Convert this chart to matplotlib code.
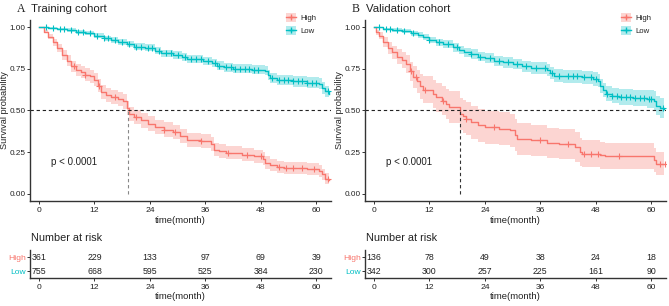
import numpy as np
import matplotlib
matplotlib.use("Agg")
import matplotlib.pyplot as plt
from matplotlib.lines import Line2D
from matplotlib.patches import Patch

plt.rcParams['font.family'] = ['Liberation Sans', 'DejaVu Sans']

RED = "#F8766D"
CYAN = "#00BFC4"

# ---------------- Panel A: Training cohort ----------------
a_high_t = [0, 1, 2, 3, 4, 5, 6, 7, 8, 9, 10, 11, 12, 12.8, 13.5, 14.5, 15.5, 17, 18.2, 19, 19.5,
            20.5, 22, 23.5, 25, 27, 29, 30.5, 32, 35, 37.3, 37.8, 39, 40.5, 44, 46.5, 48.4, 49,
            50, 51.5, 53, 58, 60.5, 61.2, 62, 62.8]
a_high_s = [1.0, 0.975, 0.945, 0.91, 0.875, 0.835, 0.80, 0.765, 0.745, 0.73, 0.715, 0.705, 0.685,
            0.65, 0.61, 0.595, 0.58, 0.57, 0.555, 0.515, 0.48, 0.46, 0.44, 0.42, 0.40, 0.385, 0.37,
            0.345, 0.325, 0.315, 0.30, 0.265, 0.255, 0.245, 0.235, 0.225, 0.21, 0.185, 0.17, 0.16,
            0.155, 0.15, 0.135, 0.115, 0.09, 0.08]
a_high_ci = [0.0, 0.01, 0.015, 0.02, 0.025, 0.03, 0.033, 0.035, 0.036, 0.037, 0.038, 0.039, 0.04,
             0.04, 0.041, 0.042, 0.042, 0.043, 0.043, 0.044, 0.044, 0.044, 0.044, 0.044, 0.044,
             0.043, 0.043, 0.043, 0.042, 0.042, 0.042, 0.041, 0.041, 0.04, 0.04, 0.04, 0.039,
             0.038, 0.037, 0.036, 0.036, 0.036, 0.035, 0.034, 0.032, 0.03]
a_high_cens = [7.5, 10, 13, 16.5, 21, 27, 29.5, 35, 41, 45, 48, 52, 53.5, 55, 57, 59.5, 62.5]

a_low_t = [0, 2, 4, 6, 8, 10, 12, 14, 15.5, 17, 19, 20.5, 23, 25, 26.5, 29, 31, 32, 35.5, 37.5,
           38.5, 40, 42, 46, 49, 49.5, 50, 51.5, 55, 58, 60.5, 61.2, 62, 62.8]
a_low_s = [1.0, 0.995, 0.99, 0.984, 0.975, 0.965, 0.95, 0.935, 0.925, 0.915, 0.90, 0.885, 0.877,
           0.86, 0.845, 0.835, 0.82, 0.808, 0.80, 0.785, 0.77, 0.76, 0.752, 0.745, 0.74, 0.715,
           0.695, 0.685, 0.675, 0.668, 0.66, 0.635, 0.615, 0.60]
a_low_ci = [0.0, 0.006, 0.008, 0.01, 0.012, 0.013, 0.015, 0.016, 0.017, 0.018, 0.019, 0.02, 0.021,
            0.022, 0.022, 0.023, 0.024, 0.024, 0.025, 0.025, 0.026, 0.026, 0.027, 0.027, 0.028,
            0.029, 0.03, 0.03, 0.031, 0.032, 0.033, 0.034, 0.035, 0.036]
a_low_cens = [1.5, 3, 4.5, 5.5, 7, 8.5, 9.5, 11, 12.5, 14, 15, 16.5, 18, 19.5, 21, 22, 23.5, 24.5,
              26, 27.5, 28.5, 30, 31.5, 33, 34, 35, 36.5, 38, 39, 40.5, 41.5, 42.5, 43.5, 44.5,
              45.5, 46.5, 47.5, 50.5, 52, 53, 54, 55, 56, 57, 58, 59, 60, 62.5]

a_risk_high = [361, 229, 133, 97, 69, 39]
a_risk_low = [755, 668, 595, 525, 384, 230]
a_median = 19.2

# ---------------- Panel B: Validation cohort ----------------
b_high_t = [0, 0.5, 1, 2, 3, 4, 5, 6, 7, 7.8, 8.5, 9.2, 10, 10.5, 12.8, 13.5, 14.8, 15.5, 16.2,
            18.7, 19.2, 20, 21, 22.5, 24, 27, 29.5, 30.5, 31, 34, 37.5, 40, 43.5, 44.5, 45, 49,
            50, 60.5, 61, 62.8]
b_high_s = [1.0, 0.97, 0.95, 0.91, 0.875, 0.85, 0.825, 0.805, 0.78, 0.735, 0.70, 0.675, 0.645,
            0.625, 0.60, 0.58, 0.56, 0.54, 0.52, 0.48, 0.465, 0.45, 0.43, 0.41, 0.40, 0.39, 0.38,
            0.35, 0.33, 0.32, 0.305, 0.30, 0.28, 0.25, 0.24, 0.23, 0.225, 0.20, 0.18, 0.175]
b_high_ci = [0.0, 0.015, 0.02, 0.03, 0.035, 0.04, 0.045, 0.05, 0.055, 0.06, 0.065, 0.07, 0.075,
             0.08, 0.085, 0.088, 0.09, 0.092, 0.095, 0.098, 0.1, 0.1, 0.1, 0.1, 0.1, 0.098, 0.097,
             0.096, 0.095, 0.094, 0.092, 0.09, 0.088, 0.085, 0.083, 0.08, 0.078, 0.072, 0.068,
             0.065]
b_high_cens = [8, 9, 11, 15, 20, 26, 36, 42, 45.5, 47, 48.5, 53, 62, 63]

b_low_t = [0, 2, 4, 6, 8, 9.5, 10.5, 12, 13.5, 15, 17, 18.5, 19.5, 21, 22.5, 24, 26, 28, 30, 32,
           34, 37.5, 38, 39, 41, 45, 47.5, 48.5, 49, 49.5, 50.3, 51.5, 53, 56, 59, 60.5, 61, 62,
           62.8]
b_low_s = [1.0, 0.99, 0.985, 0.978, 0.965, 0.955, 0.94, 0.925, 0.91, 0.90, 0.88, 0.865, 0.85,
           0.84, 0.825, 0.815, 0.80, 0.79, 0.78, 0.765, 0.755, 0.745, 0.725, 0.71, 0.705, 0.70,
           0.69, 0.68, 0.65, 0.625, 0.60, 0.59, 0.58, 0.575, 0.57, 0.56, 0.53, 0.515, 0.51]
b_low_ci = [0.0, 0.006, 0.01, 0.012, 0.015, 0.017, 0.018, 0.02, 0.022, 0.023, 0.025, 0.026,
            0.027, 0.028, 0.029, 0.03, 0.031, 0.032, 0.033, 0.034, 0.035, 0.035, 0.036, 0.037,
            0.038, 0.039, 0.04, 0.04, 0.042, 0.043, 0.045, 0.046, 0.047, 0.05, 0.052, 0.055,
            0.058, 0.062, 0.065]
b_low_cens = [1, 2.5, 3.5, 5, 6.5, 8.5, 12, 14, 16, 18, 21, 23, 25, 27, 29, 31, 33, 35, 37, 38.5,
              40, 42, 43, 44, 45.5, 47, 48, 50.5, 51.5, 52.5, 53.5, 54.5, 55.5, 56.5, 57.5, 58.5,
              59.5, 60, 62.5]

b_risk_high = [136, 78, 49, 38, 24, 18]
b_risk_low = [342, 300, 257, 225, 161, 90]
b_median = 18.7

risk_times = [0, 12, 24, 36, 48, 60]
xticks = [0, 12, 24, 36, 48, 60]
yticks = [0.0, 0.25, 0.5, 0.75, 1.0]
ytick_labels = ["0.00", "0.25", "0.50", "0.75", "1.00"]
groups = ["High", "Low"]

W, H = 669, 306
fig = plt.figure(figsize=(W / 100, H / 100), dpi=100)


def px_axes(x0, y0, x1, y1):
    return fig.add_axes([x0 / W, 1 - y1 / H, (x1 - x0) / W, (y1 - y0) / H])


XLIM = (-1.95, 63.2)
TXT = "#222222"


def style(ax):
    for s in ["top", "right"]:
        ax.spines[s].set_visible(False)
    for s in ["left", "bottom"]:
        ax.spines[s].set_linewidth(1.0)
        ax.spines[s].set_color("#333333")
    ax.tick_params(axis="both", labelsize=5.9, length=2.2, width=0.7, colors="#333333",
                   labelcolor=TXT, pad=1.0)
    ax.tick_params(axis="x", labelsize=6.1, pad=2.0)


def draw_curve(ax, t, s, ci, cens, color):
    t = np.asarray(t); s = np.asarray(s); ci = np.asarray(ci)
    lo = np.clip(s - ci, 0, 1); hi = np.clip(s + ci, 0, 1)
    ax.fill_between(t, lo, hi, step="post", color=color, alpha=0.3, linewidth=0)
    ax.step(t, s, where="post", color=color, linewidth=1.0)
    c = np.asarray(cens)
    idx = np.searchsorted(t, c, side="right") - 1
    ax.plot(c, s[idx], linestyle="none", marker="+", markersize=4.5, markeredgewidth=0.8,
            color=color)


def panel(xoff, letter, title, hs, ls, risk_h, risk_l, median, vcolor):
    ax = px_axes(xoff + 30, 20, xoff + 331, 201)
    style(ax)
    draw_curve(ax, *hs, RED)
    draw_curve(ax, *ls, CYAN)
    ax.axhline(0.5, color="#222222", linestyle=(0, (3, 2.5)), linewidth=0.8)
    ax.plot([median, median], [0, 0.5], color=vcolor, linestyle=(0, (3, 2.5)), linewidth=0.8)
    ax.set_xlim(*XLIM)
    ax.set_ylim(-0.045, 1.045)
    ax.set_xticks(xticks)
    ax.set_yticks(yticks)
    ax.set_yticklabels(ytick_labels)
    ax.set_xlabel("time(month)", fontsize=6.8, color=TXT, labelpad=1.5)
    ax.set_ylabel("Survival probability", fontsize=6.6, color=TXT, va="center")
    ax.yaxis.set_label_coords(-25 / 301, 0.5)
    ax.text(2.6, 0.19, "p < 0.0001", fontsize=7.0, color=TXT, va="center", ha="left")
    fig.text((xoff + 17) / W, 1 - 9 / H, letter, fontsize=8.5, family="Liberation Serif",
             va="center", ha="left", color=TXT)
    fig.text((xoff + 31) / W, 1 - 9 / H, title, fontsize=8.2, va="center", ha="left", color=TXT)

    handles = [(Patch(facecolor=RED, alpha=0.3, edgecolor="none"),
                Line2D([], [], color=RED, marker="+", markersize=4.5, linewidth=1.0)),
               (Patch(facecolor=CYAN, alpha=0.3, edgecolor="none"),
                Line2D([], [], color=CYAN, marker="+", markersize=4.5, linewidth=1.0))]
    leg = fig.legend(handles, groups, loc="upper left",
                     bbox_to_anchor=((xoff + 286) / W, 1 - 13 / H),
                     frameon=False, fontsize=5.6, handlelength=1.3, handleheight=1.4,
                     handletextpad=0.5, labelspacing=0.5, borderpad=0, borderaxespad=0)
    for tx in leg.get_texts():
        tx.set_color(TXT)

    # risk table
    rt = px_axes(xoff + 30, 250, xoff + 331, 278)
    style(rt)
    rt.set_xlim(*XLIM)
    rt.set_ylim(0.5, 2.5)
    rt.set_xticks(xticks)
    rt.set_yticks([2, 1])
    rt.set_yticklabels(groups)
    rt.tick_params(axis="y", labelsize=6.1)
    for lab, col in zip(rt.get_yticklabels(), [RED, CYAN]):
        lab.set_color(col)
    for x, v in zip(risk_times, risk_h):
        rt.text(x, 2, str(v), fontsize=6.3, ha="center", va="center", color=TXT)
    for x, v in zip(risk_times, risk_l):
        rt.text(x, 1, str(v), fontsize=6.3, ha="center", va="center", color=TXT)
    rt.set_xlabel("time(month)", fontsize=6.8, color=TXT, labelpad=1)
    fig.text((xoff + 31) / W, 1 - 238 / H, "Number at risk", fontsize=7.8, va="center",
             ha="left", color=TXT)


panel(0, "A", "Training cohort",
      (a_high_t, a_high_s, a_high_ci, a_high_cens),
      (a_low_t, a_low_s, a_low_ci, a_low_cens),
      a_risk_high, a_risk_low, a_median, "#888888")
panel(335, "B", "Validation cohort",
      (b_high_t, b_high_s, b_high_ci, b_high_cens),
      (b_low_t, b_low_s, b_low_ci, b_low_cens),
      b_risk_high, b_risk_low, b_median, "#333333")

fig.savefig("out.png", dpi=100)
